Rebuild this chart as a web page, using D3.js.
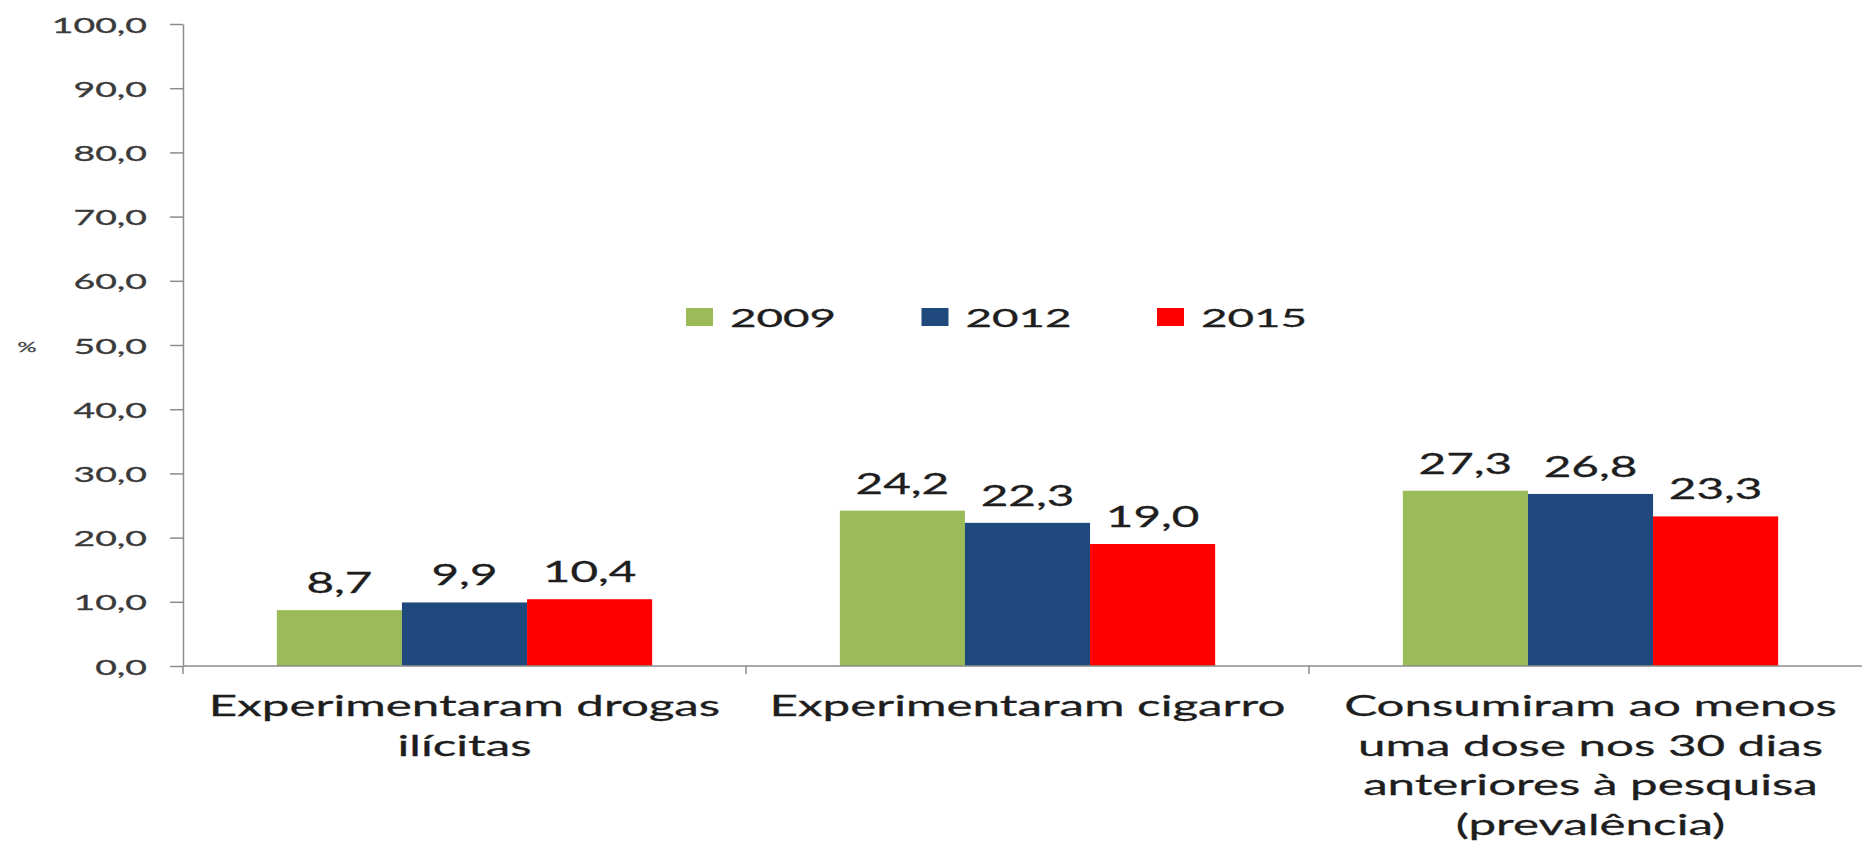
<!DOCTYPE html>
<html>
<head>
<meta charset="utf-8">
<script src="https://cdn.jsdelivr.net/npm/d3@7"></script>
<style>
  html, body { margin: 0; padding: 0; background: #ffffff; }
  svg { display: block; }
  text { font-family: Lato, "Open Sans", sans-serif; }
</style>
</head>
<body>
<svg id="chart" width="1862" height="841"></svg>
<script>
// ---- data ----
const categories = [
  ["Experimentaram drogas", "ilícitas"],
  ["Experimentaram cigarro"],
  ["Consumiram ao menos", "uma dose nos 30 dias", "anteriores à pesquisa", "(prevalência)"]
];
const years = ["2009", "2012", "2015"];
const values2009 = [8.7, 24.2, 27.3];
const values2012 = [9.9, 22.3, 26.8];
const values2015 = [10.4, 19.0, 23.3];
const seriesColors = ["#9BBB59", "#1F497D", "#FF0000"];
const yTicks = [0, 10, 20, 30, 40, 50, 60, 70, 80, 90, 100];
const yAxisTitle = "%";

// ---- layout ----
const SX = 1.7; // horizontal stretch of the original image
const svg = d3.select("#chart");
const catKeys = categories.map(c => c.join(" "));
const series = [values2009, values2012, values2015];

const y = d3.scaleLinear().domain([0, 100]).range([666, 24]);
const x = d3.scaleBand().domain(catKeys).range([183, 1872]).padding(0);
const xs = d3.scaleBand().domain(years).range([0, x.bandwidth()]).paddingInner(0).paddingOuter(0.75);

function stext(g, px, py, str, size, anchor, fill, sx) {
  return g.append("text")
    .attr("transform", `translate(${px},${py}) scale(${sx || SX},1)`)
    .attr("text-anchor", anchor)
    .attr("font-size", size)
    .attr("fill", fill)
    .attr("stroke", fill)
    .attr("stroke-width", 0.3)
    .text(str);
}

// y axis
const fmt = v => d3.format(".1f")(v).replace(".", ",");
const yAxis = d3.axisLeft(y).tickValues(yTicks).tickFormat(fmt).tickSize(13).tickSizeOuter(0);
const gy = svg.append("g").attr("transform", "translate(183,0)").call(yAxis);
gy.select(".domain").attr("stroke", "#8c8c8c").attr("stroke-width", 1.5);
gy.selectAll(".tick line").attr("stroke", "#8c8c8c").attr("stroke-width", 1.5);
gy.selectAll(".tick text")
  .attr("x", 0).attr("dy", null)
  .attr("transform", `translate(-36,8) scale(${SX},1)`)
  .attr("font-size", 22)
  .attr("font-family", "Lato")
  .attr("fill", "#3a3a3a")
  .attr("stroke", "#3a3a3a")
  .attr("stroke-width", 0.3);

// y axis title
stext(svg, 27, 352, yAxisTitle, 14, "middle", "#404040");

// bars
const gBars = svg.append("g");
categories.forEach((c, ci) => {
  years.forEach((yr, si) => {
    const v = series[si][ci];
    const bx = x(catKeys[ci]) + xs(yr);
    gBars.append("rect")
      .attr("x", bx)
      .attr("y", y(v))
      .attr("width", xs.bandwidth())
      .attr("height", y(0) - y(v))
      .attr("fill", seriesColors[si]);
    stext(gBars, bx + xs.bandwidth() / 2, y(v) - 17, fmt(v), 28, "middle", "#1e1e1e");
  });
});

// x axis line + ticks
const x0 = x.range()[0], x1 = x.range()[1];
svg.append("line").attr("x1", x0).attr("x2", x1).attr("y1", y(0)).attr("y2", y(0))
  .attr("stroke", "#8c8c8c").attr("stroke-width", 1.5);
const bounds = catKeys.map(k => x(k)).concat([x1]);
svg.selectAll(".xtick").data(bounds).enter().append("line")
  .attr("x1", d => d).attr("x2", d => d).attr("y1", y(0)).attr("y2", y(0) + 8)
  .attr("stroke", "#8c8c8c").attr("stroke-width", 1.5);

// category labels
categories.forEach((lines, ci) => {
  const cx = x(catKeys[ci]) + x.bandwidth() / 2;
  lines.forEach((ln, li) => {
    stext(svg, cx, 716 + li * 39.5, ln, 29, "middle", "#1e1e1e");
  });
});

// legend
const gLeg = svg.append("g");
years.forEach((yr, i) => {
  const lx = 686 + i * 235.5;
  gLeg.append("rect").attr("x", lx).attr("y", 308).attr("width", 27).attr("height", 18)
    .attr("fill", seriesColors[i]);
  stext(gLeg, lx + 44, 327, yr, 26, "start", "#1e1e1e", 1.76);
});
</script>
</body>
</html>
